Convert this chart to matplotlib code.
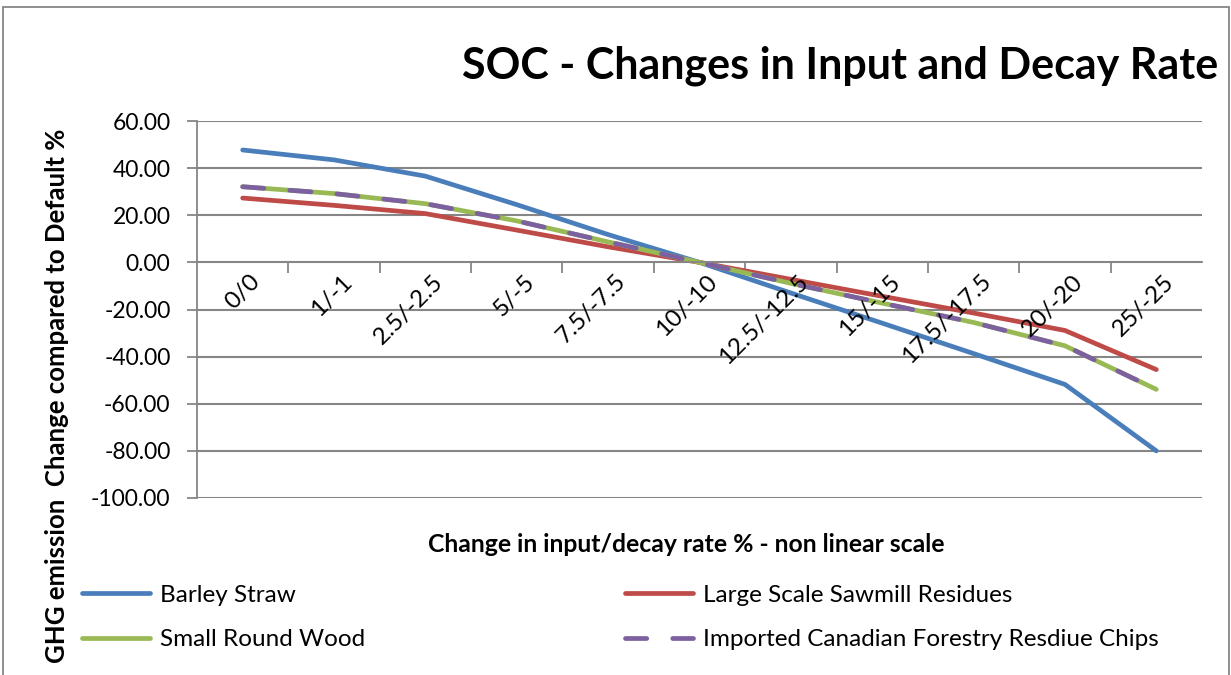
import numpy as np
import matplotlib.pyplot as plt
from matplotlib.patches import Rectangle

# categories (non linear scale)
categories = ['0/0', '1/-1', '2.5/-2.5', '5/-5', '7.5/-7.5', '10/-10',
              '12.5/-12.5', '15/-15', '17.5/-17.5', '20/-20', '25/-25']

barley = [47.7, 43.5, 36.6, 24.5, 11.8, 0.0, -13.0, -25.8, -38.7, -51.8, -80.0]
sawmill = [27.3, 24.2, 20.7, 13.7, 6.6, 0.0, -7.2, -14.4, -21.5, -28.9, -45.5]
roundwood = [32.1, 29.2, 24.9, 17.6, 8.7, 0.0, -8.9, -17.3, -25.5, -35.4, -53.9]
canadian = [32.1, 29.2, 24.9, 17.6, 8.7, 0.0, -8.9, -17.3, -25.5, -35.4, -53.9]

W, H = 1231, 675
plt.rcParams['font.family'] = ['Lato', 'DejaVu Sans']

fig = plt.figure(figsize=(W / 100, H / 100), dpi=100)
ax = fig.add_axes([197 / W, 1 - 498 / H, (1202 - 197) / W, (498 - 121) / H])

x = np.arange(len(categories))
lw = 3.4
l1, = ax.plot(x, barley, color='#4A7EBB', lw=lw, solid_capstyle='round', label='Barley Straw')
l2, = ax.plot(x, sawmill, color='#BE4B48', lw=lw, solid_capstyle='round', label='Large Scale Sawmill Residues')
l3, = ax.plot(x, roundwood, color='#98B954', lw=lw, solid_capstyle='round', label='Small Round Wood')
l4, = ax.plot(x, canadian, color='#7D60A0', lw=lw, dashes=(4.5, 5.5), dash_capstyle='round',
              label='Imported Canadian Forestry Resdiue Chips')

ax.set_xlim(-0.5, len(categories) - 0.5)
ax.set_ylim(-100, 60)
ax.set_yticks(np.arange(-100, 61, 20))
ax.set_yticklabels(['%.2f' % v for v in np.arange(-100, 61, 20)], fontsize=16.5)
ax.tick_params(axis='y', length=7, width=1.3, color='#868686', pad=12)
ax.grid(axis='y', color='#868686', lw=1.5)
ax.set_axisbelow(True)

for s in ['top', 'right']:
    ax.spines[s].set_visible(False)
ax.spines['left'].set_color('#868686')
ax.spines['left'].set_linewidth(1.3)
ax.spines['bottom'].set_position(('data', 0))
ax.spines['bottom'].set_color('#868686')
ax.spines['bottom'].set_linewidth(1.3)

# category boundaries as ticks on the zero axis
ax.set_xticks(np.arange(0.5, len(categories) - 0.5, 1))
ax.set_xticklabels([])
ax.tick_params(axis='x', length=8, width=1.3, color='#868686', direction='out')
for i, c in enumerate(categories):
    ax.annotate(c, (i, 0), xytext=(5, -6), textcoords='offset points',
                rotation=45, ha='right', va='top', rotation_mode='anchor',
                fontsize=17.5)

fig.text(840 / W, 1 - 66 / H, 'SOC - Changes in Input and Decay Rate',
         fontsize=31, fontweight='bold', ha='center', va='center')
fig.text(686 / W, 1 - 545 / H, 'Change in input/decay rate % - non linear scale',
         fontsize=17.8, fontweight='bold', ha='center', va='center')
fig.text(57 / W, 1 - 396 / H, 'GHG emission  Change compared to Default %',
         fontsize=18.5, fontweight='bold', ha='center', va='center', rotation=90)

leg_kw = dict(loc='center left', frameon=False, fontsize=17.5, handlelength=2.8,
              handletextpad=0.4, labelspacing=0.95, borderaxespad=0, borderpad=0)
leg1 = fig.legend([l1, l3], [l1.get_label(), l3.get_label()],
                  bbox_to_anchor=(82 / W, 1 - 617.5 / H), **leg_kw)
leg2 = fig.legend([l2, l4], [l2.get_label(), l4.get_label()],
                  bbox_to_anchor=(625 / W, 1 - 617.5 / H), **leg_kw)

fig.patches.append(Rectangle((3 / W, -0.05), (1229 - 3) / W, 1 - 7 / H + 0.05,
                             transform=fig.transFigure, fill=False,
                             edgecolor='#868686', lw=1.3))

fig.savefig('out.png', dpi=100)
